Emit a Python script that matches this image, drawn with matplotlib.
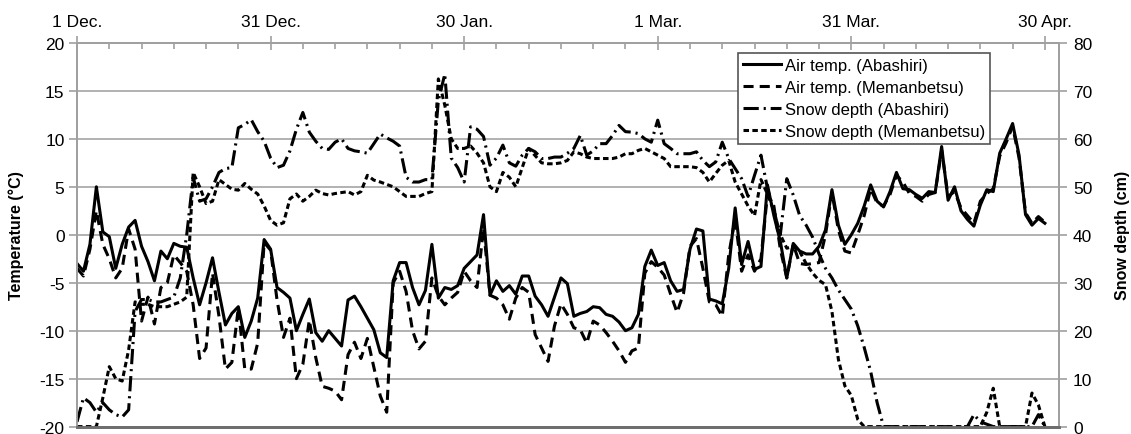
import numpy as np
import matplotlib
matplotlib.use("Agg")
import matplotlib.pyplot as plt
from matplotlib.ticker import MultipleLocator

plt.rcParams['font.family'] = ['Liberation Sans', 'DejaVu Sans']
plt.rcParams['axes.unicode_minus'] = False

### DATA (daily, day 0 = 1 Dec.)
date_ticks = [0, 30, 60, 90, 120, 150]
date_labels = ['1 Dec.', '31 Dec.', '30 Jan.', '1 Mar.', '31 Mar.', '30 Apr.']

# air temperature [C]
temp_abashiri = [
    -3.0, -3.8, -1.0, 5.0, 0.3, -0.2, -3.5, -1.0, 0.8, 1.5,
    -1.2, -2.8, -4.8, -1.7, -2.5, -0.9, -1.2, -1.3, -4.5, -7.3,
    -5.0, -2.4, -6.0, -9.4, -8.2, -7.5, -10.7, -9.0, -6.6, -0.5,
    -1.5, -5.5, -6.0, -6.6, -10.0, -8.3, -6.7, -10.2, -11.1, -10.0,
    -10.8, -11.6, -6.8, -6.4, -7.5, -8.7, -9.9, -12.3, -12.8, -4.8,
    -2.9, -2.9, -5.5, -7.3, -5.8, -1.0, -6.6, -5.5, -5.7, -5.3,
    -3.5, -2.8, -2.1, 2.1, -6.3, -4.8, -5.9, -5.3, -6.2, -4.3,
    -4.3, -6.4, -7.3, -8.5, -6.5, -4.5, -5.1, -8.5, -8.2, -8.0,
    -7.5, -7.6, -8.3, -8.5, -9.1, -10.0, -9.7, -8.3, -3.3, -1.6,
    -3.2, -2.9, -4.8, -5.9, -5.7, -1.5, 0.6, 0.4, -6.7, -6.9,
    -7.2, -3.5, 2.8, -3.1, -0.7, -3.6, -3.3, 5.2, 2.0, -0.7,
    -4.5, -0.9, -1.7, -2.0, -2.0, -1.2, 0.5, 4.7, 1.0, -1.0,
    0.0, 1.2, 3.0, 5.2, 3.5, 2.9, 4.5, 6.5, 4.8, 4.7,
    4.2, 3.8, 4.5, 4.4, 9.2, 3.6, 5.0, 2.5, 1.6, 0.9,
    3.1, 4.7, 4.5, 8.5, 10.0, 11.6, 8.3, 2.1, 1.0, 1.7, 1.2]

temp_memanbetsu = [
    -3.5, -4.3, -1.5, 2.5, -1.0, -2.5, -4.5, -3.5, 0.6, -1.5,
    -9.0, -6.5, -9.3, -5.5, -5.0, -2.1, -2.9, -3.8, -7.3, -12.9,
    -11.8, -4.0, -8.5, -14.0, -13.3, -7.6, -14.0, -14.0, -11.3, -0.8,
    -1.6, -6.8, -10.7, -8.7, -15.0, -13.5, -8.9, -12.8, -15.8, -16.0,
    -16.3, -17.2, -12.5, -11.2, -12.9, -10.8, -13.8, -16.8, -18.5, -5.0,
    -3.8, -5.9, -10.0, -11.9, -11.1, -4.5, -6.4, -7.3, -6.6, -6.0,
    -3.8, -4.8, -5.5, 0.7, -6.3, -6.6, -7.3, -8.8, -6.6, -5.5,
    -6.0, -10.4, -11.8, -13.2, -9.5, -7.2, -8.3, -9.7, -9.9, -11.3,
    -9.0, -9.4, -10.2, -11.1, -12.1, -13.3, -12.1, -11.8, -4.0, -2.8,
    -3.4, -4.2, -6.2, -8.1, -6.1, -1.2, -0.4, -3.5, -7.0, -7.3,
    -8.5, -2.1, 1.7, -3.8, -2.1, -3.8, -2.5, 4.2, 3.0, -1.5,
    -4.5, -1.0, -3.0, -3.1, -3.0, -2.9, 0.0, 4.4, 0.5, -1.7,
    -1.9, 0.0, 2.0, 4.8, 3.3, 3.0, 4.2, 6.2, 5.5, 4.3,
    4.0, 3.5, 4.2, 4.4, 8.8, 4.0, 4.5, 2.8, 2.0, 1.2,
    3.5, 4.3, 4.8, 8.2, 9.6, 11.3, 8.0, 2.3, 1.2, 1.9, 1.3]

# snow depth [cm]
snow_abashiri = [
    1, 6, 5, 3, 5, 3.5, 2.5, 2, 3.5, 24,
    26.5, 26.5, 26, 26, 26.5, 27, 31, 40, 52, 47,
    47.5, 50, 53, 53.8, 54, 62.3, 63, 64, 61.5, 59.5,
    56, 54, 54.5, 57.5, 62, 65.5, 61.4, 59.5, 58, 57.8,
    59.3, 60, 58, 57.5, 57.3, 57, 59, 61, 60.2, 59.5,
    58.5, 52, 51, 51, 51.5, 51.5, 68, 73.5, 56, 54,
    51, 62.5, 62, 60.5, 54.5, 56, 58.7, 55, 54.3, 56.6,
    58, 57.3, 55.9, 55.9, 56.2, 56.2, 57, 58, 60.7, 56.6,
    57.5, 59, 59, 60.7, 62.8, 61.5, 61.4, 61.1, 60, 59.3,
    63.9, 59, 58, 56.9, 56.9, 56.9, 57.3, 55.5, 54.2, 55.2,
    59.3, 55.9, 53.8, 51.7, 48, 52.4, 56.6, 49.7, 45, 40,
    51.7, 48.3, 44, 42, 39.5, 36, 33, 31, 28.5, 26.5,
    24.5, 21, 16.5, 11.5, 5, 0, 0, 0, 0, 0,
    0, 0, 0, 0, 0, 0, 0, 0, 0, 2.5,
    1, 0.5, 0, 0, 0, 0, 0, 0, 0, 2.5, 0]

snow_memanbetsu = [
    0, 0, 0, 0, 6, 12.5, 10, 9.5, 16, 26,
    25.5, 25.5, 25, 25, 25, 25.5, 26, 27, 53, 50,
    46.5, 47, 51.5, 50.5, 49.5, 49.3, 50.7, 49.5, 48.5, 46,
    43, 42, 42.5, 47.5, 48.5, 47, 48, 49.3, 48.6, 48.3,
    48.6, 48.8, 49, 48.3, 49, 52.4, 51.4, 51, 50.5, 50,
    49, 48, 48, 48, 48.6, 49, 72.5, 67, 60, 58,
    58, 58.5, 57, 55, 50, 49, 53, 52, 50, 54,
    58, 56.5, 55, 54.8, 54.8, 55, 55.5, 57.3, 56.9, 56.2,
    55.9, 55.9, 55.9, 55.9, 56.2, 56.9, 56.9, 57.6, 58, 57.3,
    56.6, 55.9, 54.2, 54.2, 54.2, 54.2, 54, 53, 51, 52.8,
    54.5, 55.5, 51, 48.5, 46, 44, 51.5, 48.5, 45, 40,
    37.2, 37.5, 36.5, 34, 32, 30.5, 29.6, 24, 14, 8.5,
    6.5, 1.5, 0, 0, 0, 0, 0, 0, 0, 0,
    0, 0, 0, 0, 0, 0, 0, 0, 0, 0,
    0, 3, 8, 0, 0, 0, 0, 0, 7, 4.5, 0]
### END of data section

days = np.arange(len(temp_abashiri))

axis_grey = '#a0a0a0'
lw = 2.2

fig = plt.figure(figsize=(11.31, 4.35), dpi=100)
ax1 = fig.add_axes([0.0681, 0.0170, 0.8683, 0.8820])
ax2 = ax1.twinx()

# temperature on the left axis
l1, = ax1.plot(days, temp_abashiri, color='black', lw=lw, ls='-')
l2, = ax1.plot(days, temp_memanbetsu, color='black', lw=lw,
               ls=(0, (3.3, 2.0)))
ax1.set_ylim(-20, 20)
ax1.set_xlim(0, 152.2)
ax1.yaxis.set_major_locator(MultipleLocator(5))
ax1.yaxis.grid(True, color='#ababab', lw=1.3)
ax1.set_axisbelow(True)

# snow depth on the right axis
l3, = ax2.plot(days, snow_abashiri, color='black', lw=lw,
               ls=(0, (5.0, 1.6, 0.7, 1.6)))
l4, = ax2.plot(days, snow_memanbetsu, color='black', lw=lw,
               ls=(0, (1.8, 1.1)))
ax2.set_ylim(0, 80)
ax2.yaxis.set_major_locator(MultipleLocator(10))

# date axis along the top
ax1.xaxis.tick_top()
ax1.set_xticks(date_ticks)
ax1.set_xticklabels(date_labels, fontsize=12.5)
ax1.xaxis.set_minor_locator(MultipleLocator(5))
ax1.tick_params(axis='x', which='major', direction='inout', length=10,
                width=1.2, color=axis_grey, pad=5)
ax1.tick_params(axis='x', which='minor', direction='in', length=4,
                width=1.2, color=axis_grey)
ax1.tick_params(axis='y', direction='out', length=6, width=1.2,
                color=axis_grey, labelsize=12.5, pad=3)
ax2.tick_params(axis='y', direction='out', length=6, width=1.2,
                color=axis_grey, labelsize=12.5, pad=4)

for a in (ax1, ax2):
    for side in ('top', 'left', 'right'):
        a.spines[side].set_color(axis_grey)
        a.spines[side].set_linewidth(1.3)
    a.spines['bottom'].set_color('#6e6e6e')
    a.spines['bottom'].set_linewidth(2.0)

ax1.set_ylabel('Temperature (°C)', fontsize=11.5, fontweight='bold')
ax1.yaxis.set_label_coords(-0.054, 0.5)
ax2.set_ylabel('Snow depth (cm)', fontsize=11.5, fontweight='bold')
ax2.yaxis.set_label_coords(1.057, 0.5)

leg = ax2.legend([l1, l2, l3, l4],
                 ['Air temp. (Abashiri)', 'Air temp. (Memanbetsu)',
                  'Snow depth (Abashiri)', 'Snow depth (Memanbetsu)'],
                 loc='upper left', bbox_to_anchor=(0.673, 0.975),
                 borderaxespad=0, fontsize=12, handlelength=2.3,
                 handletextpad=0.2, labelspacing=0.42, borderpad=0.3,
                 fancybox=False, framealpha=1, edgecolor='#555555')
leg.get_frame().set_linewidth(1.2)

fig.savefig('out.png', dpi=100)
